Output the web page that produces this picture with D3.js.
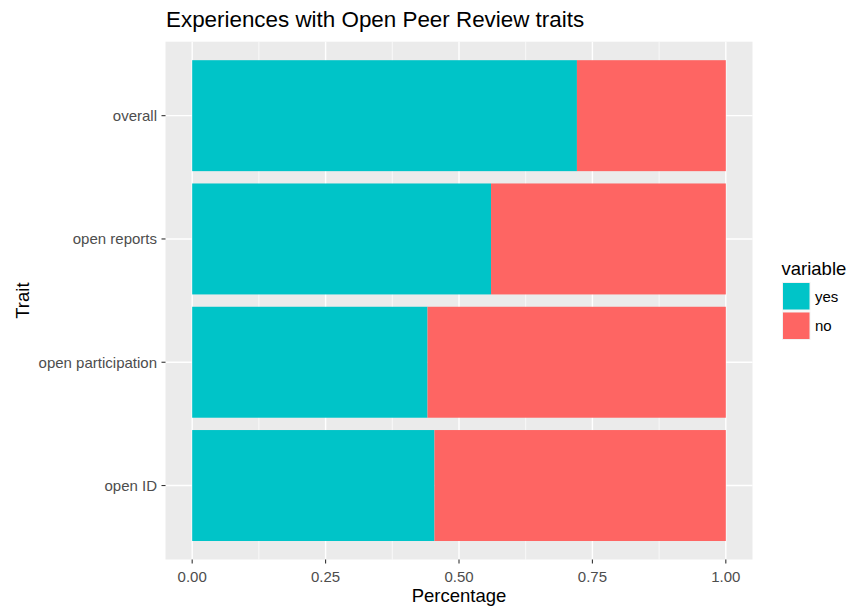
<!DOCTYPE html>
<html><head><meta charset="utf-8">
<script src="https://cdn.jsdelivr.net/npm/d3@7"></script>
<style>body{margin:0;background:#fff;} text{font-family:"Liberation Sans",Arial,Helvetica,sans-serif;}</style>
</head><body><svg id="c" width="849" height="607"></svg>
<script>
const categories = ["overall", "open reports", "open participation", "open ID"];
const yesValues = [0.721, 0.56, 0.441, 0.454];
const noValues = [0.279, 0.44, 0.559, 0.546];
const seriesNames = ["yes", "no"];
const seriesColors = ["#00C4C8", "#FE6563"];
const xTicks = [0, 0.25, 0.5, 0.75, 1];
const xMinor = [0.125, 0.375, 0.625, 0.875];

const svg = d3.select("#c");
const pL = 165.5, pR = 752.5, pT = 41.7, pB = 559.5;
const x = d3.scaleLinear().domain([-0.05, 1.05]).range([pL, pR]);
// discrete scale: positions 1..n within [0.4, n+0.6]
const n = categories.length;
const y = d3.scalePoint().domain(categories).range([pT + 0.6 * (pB - pT) / (n + 0.2), pB - 0.6 * (pB - pT) / (n + 0.2)]);
const unit = (pB - pT) / (n + 0.2);
const yc = c => y(c);
const barH = 0.9 * unit;

svg.append("rect").attr("x", pL).attr("y", pT).attr("width", pR - pL).attr("height", pB - pT).attr("fill", "#EBEBEB");
const g = svg.append("g");
xMinor.forEach(v => g.append("line").attr("x1", x(v)).attr("x2", x(v)).attr("y1", pT).attr("y2", pB).attr("stroke", "#fff").attr("stroke-width", 0.7));
xTicks.forEach(v => g.append("line").attr("x1", x(v)).attr("x2", x(v)).attr("y1", pT).attr("y2", pB).attr("stroke", "#fff").attr("stroke-width", 1.4));
categories.forEach(c => g.append("line").attr("x1", pL).attr("x2", pR).attr("y1", yc(c)).attr("y2", yc(c)).attr("stroke", "#fff").attr("stroke-width", 1.4));

const stack = categories.map((c, i) => ({c, vals: [yesValues[i], noValues[i]]}));
stack.forEach(d => {
  let acc = 0;
  d.vals.forEach((v, j) => {
    svg.append("rect").attr("x", x(acc)).attr("width", x(acc + v) - x(acc))
      .attr("y", yc(d.c) - barH / 2).attr("height", barH).attr("fill", seriesColors[j]);
    acc += v;
  });
});

// x axis
const xa = svg.append("g");
xTicks.forEach(v => {
  xa.append("line").attr("x1", x(v)).attr("x2", x(v)).attr("y1", pB).attr("y2", pB + 4).attr("stroke", "#333").attr("stroke-width", 1.1);
  xa.append("text").attr("x", x(v)).attr("y", pB + 22).attr("text-anchor", "middle").attr("font-size", 15).attr("fill", "#4D4D4D").text(d3.format(".2f")(v));
});
// y axis
categories.forEach(c => {
  svg.append("line").attr("x1", pL - 4).attr("x2", pL).attr("y1", yc(c)).attr("y2", yc(c)).attr("stroke", "#333").attr("stroke-width", 1.1);
  svg.append("text").attr("x", pL - 8.5).attr("y", yc(c)).attr("dy", "0.36em").attr("text-anchor", "end").attr("font-size", 15).attr("fill", "#4D4D4D").text(c);
});

svg.append("text").attr("x", (pL + pR) / 2).attr("y", 601.5).attr("text-anchor", "middle").attr("font-size", 18.5).attr("fill", "#000").text("Percentage");
svg.append("text").attr("transform", `translate(29,${(pT + pB) / 2}) rotate(-90)`).attr("text-anchor", "middle").attr("font-size", 18.5).attr("fill", "#000").text("Trait");
svg.append("text").attr("x", pL + 0.5).attr("y", 27).attr("font-size", 22.4).attr("fill", "#000").text("Experiences with Open Peer Review traits");

// legend
const lg = svg.append("g");
lg.append("text").attr("x", 781.5).attr("y", 275).attr("font-size", 18.5).attr("fill", "#000").text("variable");
seriesNames.forEach((s, i) => {
  const ky = 282 + i * 29.5;
  lg.append("rect").attr("x", 782).attr("y", ky).attr("width", 28.5).attr("height", 28.5).attr("fill", "#F2F2F2");
  lg.append("rect").attr("x", 783).attr("y", ky + 1).attr("width", 26.5).attr("height", 26.5).attr("fill", seriesColors[i]);
  lg.append("text").attr("x", 815).attr("y", ky + 14.5).attr("dy", "0.36em").attr("font-size", 15).attr("fill", "#000").text(s);
});
</script></body></html>
